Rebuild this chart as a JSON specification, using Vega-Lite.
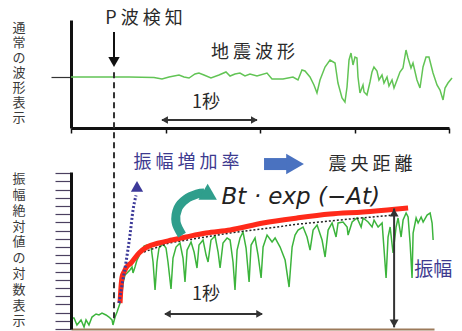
{
  "$schema": "https://vega.github.io/schema/vega-lite/v6.json",
  "background": "white",
  "padding": {"left": 12, "top": 9, "right": 0, "bottom": 0},
  "config": {"view": {"stroke": null}, "font": "Noto Sans CJK JP"},
  "datasets": {
    "topwave": [
      {"t":0,"v":0},{"t":0.296,"v":0},{"t":0.614,"v":0},{"t":0.878,"v":-0.05},{"t":0.963,"v":-0.2},{"t":1.037,"v":0},{"t":1.143,"v":0.2},{"t":1.196,"v":0},{"t":1.249,"v":-0.1},{"t":1.312,"v":0.3},{"t":1.354,"v":0.4},{"t":1.407,"v":0.2},{"t":1.481,"v":-0.1},{"t":1.566,"v":0.2},{"t":1.64,"v":0.5},{"t":1.683,"v":0.1},{"t":1.735,"v":0.3},{"t":1.788,"v":0.4},{"t":1.841,"v":0.1},{"t":1.894,"v":0.3},{"t":1.968,"v":0.1},{"t":2.074,"v":0.4},{"t":2.127,"v":-0.2},{"t":2.243,"v":-0.2},{"t":2.349,"v":0},{"t":2.402,"v":-0.3},{"t":2.444,"v":0.7},{"t":2.476,"v":0.6},{"t":2.529,"v":0},{"t":2.571,"v":-0.8},{"t":2.603,"v":-1.6},{"t":2.635,"v":-0.3},{"t":2.688,"v":1.0},{"t":2.741,"v":1.7},{"t":2.794,"v":1.4},{"t":2.825,"v":-0.6},{"t":2.868,"v":-2.1},{"t":2.899,"v":-2.5},{"t":2.921,"v":-1.0},{"t":2.942,"v":1.7},{"t":2.963,"v":2.4},{"t":2.984,"v":1.2},{"t":3.005,"v":2.0},{"t":3.026,"v":1.9},{"t":3.037,"v":0},{"t":3.058,"v":-1.6},{"t":3.09,"v":-0.8},{"t":3.101,"v":-1.5},{"t":3.132,"v":-1.8},{"t":3.164,"v":-0.5},{"t":3.185,"v":0.5},{"t":3.206,"v":1.0},{"t":3.238,"v":0.6},{"t":3.259,"v":-0.3},{"t":3.291,"v":0.2},{"t":3.312,"v":-0.6},{"t":3.344,"v":0},{"t":3.365,"v":-0.9},{"t":3.397,"v":-0.3},{"t":3.418,"v":-1.1},{"t":3.45,"v":-0.3},{"t":3.481,"v":0.5},{"t":3.513,"v":0.9},{"t":3.545,"v":2.7},{"t":3.566,"v":1.9},{"t":3.598,"v":0.9},{"t":3.619,"v":1.4},{"t":3.661,"v":-0.3},{"t":3.693,"v":-1.1},{"t":3.725,"v":1.0},{"t":3.757,"v":2.0},{"t":3.788,"v":2.0},{"t":3.831,"v":0.4},{"t":3.873,"v":-0.8},{"t":3.905,"v":-1.3},{"t":3.937,"v":-2.3},{"t":3.958,"v":-1.1},{"t":3.989,"v":-0.6},{"t":4.032,"v":-0.1}
    ],
    "botwave": [
      {"t":0.021,"v":1.34},{"t":0.032,"v":1.34},{"t":0.063,"v":0.49},{"t":0.106,"v":1.1},{"t":0.138,"v":0.24},{"t":0.159,"v":1.1},{"t":0.19,"v":0.49},{"t":0.222,"v":1.46},{"t":0.265,"v":1.83},{"t":0.296,"v":1.71},{"t":0.328,"v":1.95},{"t":0.37,"v":1.71},{"t":0.402,"v":1.46},{"t":0.434,"v":1.1},{"t":0.444,"v":0.49},{"t":0.466,"v":1.46},{"t":0.487,"v":2.07},{"t":0.519,"v":3.17},{"t":0.54,"v":4.39},{"t":0.55,"v":5.61},{"t":0.571,"v":6.59},{"t":0.593,"v":6.83},{"t":0.624,"v":7.2},{"t":0.646,"v":7.56},{"t":0.656,"v":6.83},{"t":0.677,"v":7.56},{"t":0.698,"v":8.41},{"t":0.741,"v":9.39},{"t":0.772,"v":10.12},{"t":0.804,"v":10.24},{"t":0.847,"v":10.0},{"t":0.868,"v":8.17},{"t":0.889,"v":4.76},{"t":0.91,"v":8.17},{"t":0.931,"v":9.88},{"t":0.974,"v":10.37},{"t":1.005,"v":9.88},{"t":1.026,"v":8.17},{"t":1.058,"v":4.88},{"t":1.079,"v":8.66},{"t":1.111,"v":10.0},{"t":1.153,"v":10.49},{"t":1.185,"v":8.66},{"t":1.206,"v":5.73},{"t":1.228,"v":9.63},{"t":1.27,"v":10.61},{"t":1.302,"v":9.39},{"t":1.333,"v":7.44},{"t":1.354,"v":10.24},{"t":1.397,"v":10.85},{"t":1.429,"v":9.02},{"t":1.45,"v":8.17},{"t":1.481,"v":10.85},{"t":1.524,"v":11.34},{"t":1.556,"v":9.39},{"t":1.577,"v":7.44},{"t":1.608,"v":10.49},{"t":1.651,"v":11.1},{"t":1.683,"v":10.85},{"t":1.714,"v":8.17},{"t":1.735,"v":4.76},{"t":1.757,"v":9.63},{"t":1.788,"v":11.1},{"t":1.82,"v":11.83},{"t":1.852,"v":9.88},{"t":1.884,"v":5.73},{"t":1.905,"v":10.24},{"t":1.947,"v":11.1},{"t":1.979,"v":9.02},{"t":2.011,"v":6.22},{"t":2.032,"v":10.0},{"t":2.074,"v":11.46},{"t":2.127,"v":10.61},{"t":2.159,"v":11.1},{"t":2.212,"v":10.0},{"t":2.265,"v":8.41},{"t":2.307,"v":5.12},{"t":2.339,"v":10.0},{"t":2.37,"v":11.46},{"t":2.402,"v":12.07},{"t":2.455,"v":12.44},{"t":2.497,"v":11.22},{"t":2.529,"v":9.63},{"t":2.561,"v":12.07},{"t":2.603,"v":12.68},{"t":2.656,"v":10.85},{"t":2.688,"v":8.78},{"t":2.72,"v":12.07},{"t":2.762,"v":12.93},{"t":2.804,"v":11.22},{"t":2.825,"v":12.93},{"t":2.878,"v":13.05},{"t":2.921,"v":12.44},{"t":2.931,"v":11.46},{"t":2.974,"v":13.05},{"t":3.026,"v":13.54},{"t":3.069,"v":12.44},{"t":3.09,"v":13.54},{"t":3.143,"v":13.05},{"t":3.185,"v":12.44},{"t":3.206,"v":13.29},{"t":3.249,"v":12.44},{"t":3.291,"v":12.93},{"t":3.312,"v":9.63},{"t":3.333,"v":6.22},{"t":3.354,"v":11.22},{"t":3.376,"v":12.44},{"t":3.407,"v":9.27},{"t":3.439,"v":12.44},{"t":3.46,"v":13.54},{"t":3.492,"v":11.22},{"t":3.513,"v":13.29},{"t":3.545,"v":14.15},{"t":3.566,"v":13.66},{"t":3.587,"v":10.49},{"t":3.608,"v":6.22},{"t":3.619,"v":11.71},{"t":3.651,"v":13.54},{"t":3.672,"v":12.93},{"t":3.704,"v":13.66},{"t":3.725,"v":13.05},{"t":3.767,"v":13.9},{"t":3.799,"v":14.15},{"t":3.82,"v":12.93},{"t":3.831,"v":10.85}
    ],
    "redcurve": [
      {"t":0.519,"v":3.17},{"t":0.529,"v":5.12},{"t":0.54,"v":6.34},{"t":0.561,"v":6.95},{"t":0.582,"v":7.44},{"t":0.635,"v":8.05},{"t":0.72,"v":9.27},{"t":0.804,"v":10.0},{"t":0.931,"v":10.49},{"t":1.069,"v":10.85},{"t":1.217,"v":11.22},{"t":1.429,"v":11.71},{"t":1.683,"v":12.07},{"t":2.032,"v":12.93},{"t":2.392,"v":13.54},{"t":2.741,"v":14.02},{"t":3.09,"v":14.27},{"t":3.45,"v":14.63},{"t":3.566,"v":14.76}
    ],
    "fitline": [
      {"t":0.772,"v":9.39},{"t":1.037,"v":10.49},{"t":1.354,"v":11.1},{"t":1.683,"v":11.71},{"t":2.413,"v":12.8},{"t":2.942,"v":13.41},{"t":3.418,"v":13.9}
    ],
    "ratearrow": [
      {"t":0.508,"v":3.17},{"t":0.54,"v":5.37},{"t":0.582,"v":8.17},{"t":0.624,"v":11.46},{"t":0.656,"v":14.5},{"t":0.688,"v":16.3}
    ],
    "tealarrow": [
      {"i":1,"t":1.175,"v":11.46},{"i":2,"t":1.111,"v":13.05},{"i":3,"t":1.132,"v":14.76},{"i":4,"t":1.217,"v":15.85},{"i":5,"t":1.333,"v":16.46},{"i":6,"t":1.407,"v":16.59}
    ]
  },
  "vconcat": [
    {
      "width": 378,
      "height": 108,
      "encoding": {
        "x": {"field": "t", "type": "quantitative", "scale": {"domain": [0, 4], "nice": false, "zero": false},
          "axis": {"values": [0, 1, 2, 3, 4], "labels": false, "title": null, "grid": false, "domainColor": "#111", "domainWidth": 3, "tickColor": "#111", "tickWidth": 1.5, "tickSize": 5}},
        "y": {"field": "v", "type": "quantitative", "scale": {"domain": [-5.1, 5.7], "nice": false, "zero": false},
          "axis": {"values": [0], "labels": false, "title": null, "grid": false, "domainColor": "#111", "domainWidth": 3, "tickColor": "#333", "tickWidth": 1.2, "tickSize": 20}}
      },
      "layer": [
        {"data": {"name": "topwave"}, "mark": {"type": "line", "color": "#62c455", "strokeWidth": 1.5, "clip": false}},
        {"data": {"values": [{"t": 0.455, "v": 4.5, "v2": 2.0}]}, "mark": {"type": "rule", "color": "#111", "strokeWidth": 2}, "encoding": {"y2": {"field": "v2"}}},
        {"data": {"values": [{"t": 0.455, "v": 1.5}]}, "mark": {"type": "point", "shape": "triangle-down", "filled": true, "color": "#111", "size": 130, "opacity": 1}},
        {"data": {"values": [{"t": 0.963, "t2": 1.968, "v": -4.3}]}, "mark": {"type": "rule", "color": "#333", "strokeWidth": 2}, "encoding": {"x2": {"field": "t2"}}},
        {"data": {"values": [{"t": 0.99, "v": -4.3}]}, "mark": {"type": "point", "shape": "triangle-left", "filled": true, "color": "#333", "size": 60, "opacity": 1}},
        {"data": {"values": [{"t": 1.94, "v": -4.3}]}, "mark": {"type": "point", "shape": "triangle-right", "filled": true, "color": "#333", "size": 60, "opacity": 1}},
        {"data": {"values": [
            {"label": "P 波 検 知", "t": 0.772, "v": 5.85},
            {"label": "地 震 波 形", "t": 1.926, "v": 2.4},
            {"label": "1秒", "t": 1.429, "v": -2.6}
          ]},
          "mark": {"type": "text", "fontSize": 18, "color": "#2a2a2a", "font": "Noto Sans CJK JP", "align": "center", "baseline": "middle"},
          "encoding": {"text": {"field": "label"}}},
        {"data": {"values": [{"label": "通\n常\nの\n波\n形\n表\n示", "t": -0.55, "v": 5.5}]},
          "mark": {"type": "text", "fontSize": 13, "lineHeight": 15, "lineBreak": "\n", "color": "#3a3a3a", "font": "Noto Sans CJK JP", "align": "center", "baseline": "top"},
          "encoding": {"text": {"field": "label"}}}
      ]
    },
    {
      "width": 363,
      "height": 157,
      "encoding": {
        "x": {"field": "t", "type": "quantitative", "scale": {"domain": [0, 3.84], "nice": false, "zero": false},
          "axis": {"labels": false, "ticks": false, "title": null, "grid": false, "domainColor": "#9c7a5a", "domainWidth": 2}},
        "y": {"field": "v", "type": "quantitative", "scale": {"domain": [0, 19.15], "nice": false, "zero": false},
          "axis": {"values": [0,1,2,3,4,5,6,7,8,9,10,11,12,13,14,15,16,17,18,19], "labels": false, "title": null, "grid": false, "domainColor": "#111", "domainWidth": 3, "tickColor": "#4b4060", "tickWidth": 1.2, "tickSize": 16}}
      },
      "layer": [
        {"data": {"name": "botwave"}, "mark": {"type": "line", "color": "#3cb43c", "strokeWidth": 1.5, "clip": false}},
        {"data": {"name": "fitline"}, "mark": {"type": "line", "color": "#222", "strokeWidth": 1.5, "strokeDash": [2, 2]}},
        {"data": {"name": "redcurve"}, "mark": {"type": "line", "color": "#ff2a1a", "strokeWidth": 5, "interpolate": "monotone"}},
        {"data": {"name": "ratearrow"}, "mark": {"type": "line", "color": "#3d3a99", "strokeWidth": 3, "strokeDash": [2, 2], "interpolate": "monotone"}},
        {"data": {"values": [{"t": 0.698, "v": 17.4}]}, "mark": {"type": "point", "shape": "triangle-up", "filled": true, "color": "#3d3a99", "size": 150, "opacity": 1}},
        {"data": {"values": [{"t": 0.455, "v": 1.3, "v2": 31.8}]}, "mark": {"type": "rule", "color": "#333", "strokeWidth": 2, "strokeDash": [6, 4]}, "encoding": {"y2": {"field": "v2"}}},
        {"data": {"name": "tealarrow"}, "mark": {"type": "line", "color": "#2f9e8c", "strokeWidth": 9, "interpolate": "cardinal", "strokeCap": "butt"}, "encoding": {"order": {"field": "i", "type": "quantitative"}}},
        {"data": {"values": [{"t": 1.47, "v": 16.25}]}, "mark": {"type": "point", "shape": "triangle-right", "filled": true, "color": "#2f9e8c", "size": 340, "angle": 30, "opacity": 1}},
        {"data": {"values": [{"t": 2.042, "t2": 2.3, "v": 20.12}]}, "mark": {"type": "rule", "color": "#4a72c0", "strokeWidth": 12}, "encoding": {"x2": {"field": "t2"}}},
        {"data": {"values": [{"t": 2.37, "v": 20.12}]}, "mark": {"type": "point", "shape": "triangle-right", "filled": true, "color": "#4a72c0", "size": 420, "opacity": 1}},
        {"data": {"values": [{"t": 0.995, "t2": 2.021, "v": 1.83}]}, "mark": {"type": "rule", "color": "#333", "strokeWidth": 2}, "encoding": {"x2": {"field": "t2"}}},
        {"data": {"values": [{"t": 1.02, "v": 1.83}]}, "mark": {"type": "point", "shape": "triangle-left", "filled": true, "color": "#333", "size": 60, "opacity": 1}},
        {"data": {"values": [{"t": 1.995, "v": 1.83}]}, "mark": {"type": "point", "shape": "triangle-right", "filled": true, "color": "#333", "size": 60, "opacity": 1}},
        {"data": {"values": [{"t": 3.418, "v": 0.2, "v2": 14.7}]}, "mark": {"type": "rule", "color": "#333", "strokeWidth": 2}, "encoding": {"y2": {"field": "v2"}}},
        {"data": {"values": [{"t": 3.418, "v": 14.2}]}, "mark": {"type": "point", "shape": "triangle-up", "filled": true, "color": "#333", "size": 80, "opacity": 1}},
        {"data": {"values": [{"t": 3.418, "v": 0.7}]}, "mark": {"type": "point", "shape": "triangle-down", "filled": true, "color": "#333", "size": 80, "opacity": 1}},
        {"data": {"values": [
            {"label": "振 幅 増 加 率", "t": 1.222, "v": 20.24}
          ]},
          "mark": {"type": "text", "fontSize": 18, "color": "#3d3a8f", "font": "Noto Sans CJK JP", "align": "center", "baseline": "middle"},
          "encoding": {"text": {"field": "label"}}},
        {"data": {"values": [
            {"label": "震 央 距 離", "t": 3.169, "v": 20.0},
            {"label": "1秒", "t": 1.429, "v": 4.15}
          ]},
          "mark": {"type": "text", "fontSize": 18, "color": "#2a2a2a", "font": "Noto Sans CJK JP", "align": "center", "baseline": "middle"},
          "encoding": {"text": {"field": "label"}}},
        {"data": {"values": [{"label": "振幅", "t": 3.63, "v": 7.2}]},
          "mark": {"type": "text", "fontSize": 19, "color": "#3d3a8f", "font": "Noto Sans CJK JP", "align": "left", "baseline": "middle"},
          "encoding": {"text": {"field": "label"}}},
        {"data": {"values": [{"label": "Bt · exp (−At)", "t": 2.43, "v": 16.1}]},
          "mark": {"type": "text", "fontSize": 23, "fontStyle": "italic", "color": "#222", "font": "DejaVu Sans", "align": "center", "baseline": "middle"},
          "encoding": {"text": {"field": "label"}}},
        {"data": {"values": [{"label": "振\n幅\n絶\n対\n値\nの\n対\n数\n表\n示", "t": -0.55, "v": 19.0}]},
          "mark": {"type": "text", "fontSize": 13, "lineHeight": 15.8, "lineBreak": "\n", "color": "#3a3a3a", "font": "Noto Sans CJK JP", "align": "center", "baseline": "top"},
          "encoding": {"text": {"field": "label"}}}
      ]
    }
  ],
  "spacing": 44,
  "bounds": "flush"
}
